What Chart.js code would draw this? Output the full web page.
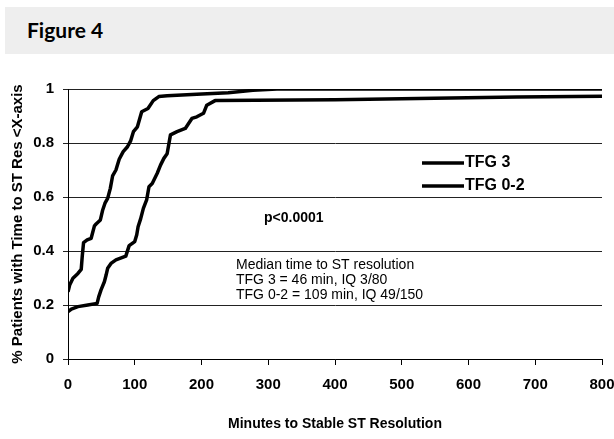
<!DOCTYPE html>
<html>
<head>
<meta charset="utf-8">
<script src="https://cdn.jsdelivr.net/npm/chart.js@4.4.1/dist/chart.umd.min.js"></script>
<style>
  html, body { margin: 0; padding: 0; background: #fff; }
  #wrap { position: relative; width: 614px; height: 439px; overflow: hidden; }
  #band { position: absolute; left: 5px; top: 7px; width: 609px; height: 47px; background: #eeeeee; }
  #band span { position: absolute; left: 22px; top: 10px; font-family: Lato, "Open Sans", sans-serif; font-weight: 700; font-size: 21px; color: #000; }
  #c { position: absolute; left: 0; top: 0; }
</style>
</head>
<body>
<div id="wrap">
  <div id="band"><span>Figure 4</span></div>
  <canvas id="c" width="614" height="439"></canvas>
</div>
<script>
// ---- data ----
const tfg3Minutes = [0, 2.5, 7.4, 14.9, 19.8, 21.3, 23.3, 28.7, 34.7, 39.6, 42.1, 48.5, 52, 55.4, 59.4, 63.4, 66.8, 71.8, 76.7, 82.7, 89.1, 94, 98, 104, 110.4, 119.8, 127.7, 136, 148.5, 193, 240, 277, 313, 800];
const tfg3Fraction = [0.249, 0.274, 0.299, 0.317, 0.332, 0.379, 0.431, 0.441, 0.447, 0.493, 0.5, 0.515, 0.552, 0.577, 0.595, 0.632, 0.678, 0.70, 0.74, 0.768, 0.786, 0.809, 0.842, 0.86, 0.916, 0.928, 0.957, 0.972, 0.975, 0.981, 0.986, 0.995, 1.0, 1.0];

const tfg02Minutes = [0, 5, 14.9, 29.7, 43.6, 46, 49.5, 54.5, 57, 59.4, 64.4, 71.8, 86.6, 91.6, 100, 103, 105, 108.9, 112.9, 117.8, 121.3, 126.2, 133.7, 138.6, 143.6, 148.5, 153.5, 163.4, 175.7, 185.6, 193, 203, 207.9, 220.3, 400, 500, 672, 800];
const tfg02Fraction = [0.175, 0.185, 0.194, 0.2, 0.206, 0.23, 0.256, 0.286, 0.31, 0.336, 0.354, 0.367, 0.381, 0.42, 0.435, 0.46, 0.49, 0.52, 0.558, 0.589, 0.638, 0.65, 0.688, 0.718, 0.743, 0.76, 0.83, 0.842, 0.854, 0.891, 0.897, 0.91, 0.94, 0.957, 0.96, 0.964, 0.970, 0.973];

const seriesNames = ['TFG 3', 'TFG 0-2'];
const xTickLabels = ['0', '100', '200', '300', '400', '500', '600', '700', '800'];
const yTickLabels = ['0', '0.2', '0.4', '0.6', '0.8', '1'];
const xTitle = 'Minutes to Stable ST Resolution';
const yTitle = '% Patients with Time to ST Res <X-axis';
const pValueText = 'p<0.0001';
const medianLines = ['Median time to ST resolution', 'TFG 3 = 46 min, IQ 3/80', 'TFG 0-2 = 109 min, IQ 49/150'];

// ---- build ----
const toPoints = (xs, ys) => xs.map((x, i) => ({ x: x, y: ys[i] }));
const FONT = '"Liberation Sans", Arial, sans-serif';

const annotations = {
  id: 'annotations',
  afterDraw(chart) {
    const { ctx, chartArea: a } = chart;
    ctx.save();
    ctx.fillStyle = '#000';
    ctx.strokeStyle = '#000';
    ctx.textBaseline = 'middle';
    ctx.textAlign = 'left';
    // legend
    ctx.lineWidth = 3.5;
    ctx.font = 'bold 16px ' + FONT;
    const lx0 = a.left + 354, lx1 = a.left + 396;
    const ly = [a.top + 74, a.top + 97];
    seriesNames.forEach((name, i) => {
      ctx.beginPath();
      ctx.moveTo(lx0, ly[i]);
      ctx.lineTo(lx1, ly[i]);
      ctx.stroke();
      ctx.fillText(name, lx1 + 1, ly[i]);
    });
    // p-value
    ctx.font = 'bold 14px ' + FONT;
    ctx.fillText(pValueText, a.left + 196, a.top + 129);
    // medians
    ctx.font = '14px ' + FONT;
    medianLines.forEach((t, i) => ctx.fillText(t, a.left + 168, a.top + 176 + i * 15));
    ctx.restore();
  }
};

new Chart(document.getElementById('c'), {
  type: 'line',
  data: {
    datasets: [
      { label: seriesNames[0], data: toPoints(tfg3Minutes, tfg3Fraction), borderColor: '#000', borderWidth: 3.5, pointRadius: 0, tension: 0, fill: false, clip: 0, borderJoinStyle: 'round', borderCapStyle: 'butt' },
      { label: seriesNames[1], data: toPoints(tfg02Minutes, tfg02Fraction), borderColor: '#000', borderWidth: 3.5, pointRadius: 0, tension: 0, fill: false, clip: 0, borderJoinStyle: 'round', borderCapStyle: 'butt' }
    ]
  },
  options: {
    responsive: false,
    animation: false,
    devicePixelRatio: 1,
    layout: { padding: { left: 0, top: 89, right: 12, bottom: 0 } },
    plugins: { legend: { display: false }, tooltip: { enabled: false } },
    scales: {
      x: {
        type: 'linear', min: 0, max: 800,
        ticks: { stepSize: 100, autoSkip: false, maxRotation: 0, color: '#000', padding: 11,
                 font: { family: FONT, size: 15, weight: 'bold' },
                 callback: (v, i) => xTickLabels[i] },
        grid: { drawOnChartArea: false, drawTicks: true, tickLength: 6, color: '#000', lineWidth: 1 },
        border: { display: true, color: '#000', width: 1 },
        title: { display: true, text: xTitle, color: '#000', font: { family: FONT, size: 14, weight: 'bold' }, padding: { top: 4, bottom: 6 } },
        afterFit(s) { s.height = 80; s.paddingLeft = 0; s.paddingRight = 0; }
      },
      y: {
        min: 0, max: 1,
        ticks: { stepSize: 0.2, color: '#000', padding: 9,
                 font: { family: FONT, size: 15, weight: 'bold' },
                 callback: (v, i) => yTickLabels[i] },
        grid: { drawTicks: true, tickLength: 5, color: '#222', lineWidth: 1 },
        border: { display: true, color: '#000', width: 1 },
        title: { display: true, text: yTitle, color: '#000', font: { family: FONT, size: 15, weight: 'bold' }, padding: { top: 9, bottom: 0 } },
        afterFit(s) { s.width = 68; s.paddingTop = 0; s.paddingBottom = 0; }
      }
    }
  },
  plugins: [annotations]
});
</script>
</body>
</html>
